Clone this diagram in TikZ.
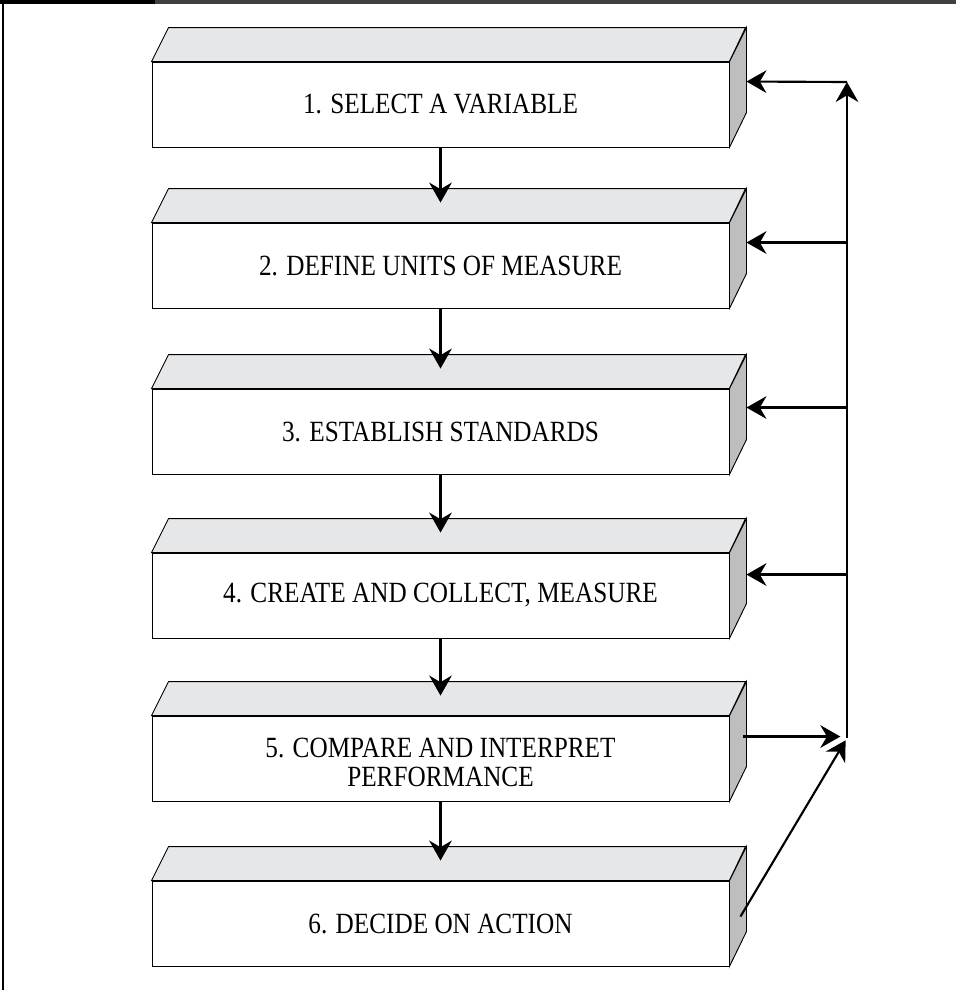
\documentclass[tikz,border=0pt]{standalone}
\usepackage{fontspec}
\setmainfont{Liberation Serif}
\newfontfamily\stepfont[FakeStretch=0.86]{Liberation Serif}
\usepackage{xcolor}
\usetikzlibrary{calc,arrows.meta}

\definecolor{facetop}{RGB}{230,231,232}
\definecolor{faceside}{RGB}{188,190,192}

\tikzset{
  stepbox/.style={draw, line width=0.7pt, fill=white, minimum width=432.75pt,
    minimum height=63.75pt, inner sep=0pt, align=center,
    font=\stepfont\fontsize{22}{22}\selectfont},
  topface/.style={draw, line width=0.7pt, fill=facetop},
  sideface/.style={draw, line width=0.7pt, fill=faceside},
  flow/.style={line width=1.6pt, -{Stealth[length=15pt,width=17pt,inset=5pt]}},
}

\begin{document}
\begin{tikzpicture}[x=0.75pt,y=0.75pt,yscale=-1,xscale=1]
\useasboundingbox (0,0) rectangle (956,990);

% frame
\draw [line width=1.2pt] (3,0) -- (3,990) ;
\draw [line width=2.5pt, black!75] (0,2) -- (956,2) ;
\draw [line width=3pt] (0,2) -- (155,2) ;

% steps
\node [stepbox] (s1) at (440.5,104.5) {1. SELECT A VARIABLE};
\draw [topface] (s1.north west) -- ++(17,-34) -- ++(577,0) -- (s1.north east) -- cycle ;
\draw [sideface] (s1.north east) -- ++(17,-34) -- ++(0,85) -- (s1.south east) -- cycle ;

\node [stepbox] (s2) at (440.5,265.5) {2. DEFINE UNITS OF MEASURE};
\draw [topface] (s2.north west) -- ++(17,-34) -- ++(577,0) -- (s2.north east) -- cycle ;
\draw [sideface] (s2.north east) -- ++(17,-34) -- ++(0,85) -- (s2.south east) -- cycle ;

\node [stepbox] (s3) at (440.5,431.5) {3. ESTABLISH STANDARDS};
\draw [topface] (s3.north west) -- ++(17,-34) -- ++(577,0) -- (s3.north east) -- cycle ;
\draw [sideface] (s3.north east) -- ++(17,-34) -- ++(0,85) -- (s3.south east) -- cycle ;

\node [stepbox] (s4) at (440.5,595.5) {4. CREATE AND COLLECT, MEASURE};
\draw [topface] (s4.north west) -- ++(17,-34) -- ++(577,0) -- (s4.north east) -- cycle ;
\draw [sideface] (s4.north east) -- ++(17,-34) -- ++(0,85) -- (s4.south east) -- cycle ;

\node [stepbox] (s5) at (440.5,758.5) {\rule{0pt}{20pt}5. COMPARE AND INTERPRET\\PERFORMANCE};
\draw [topface] (s5.north west) -- ++(17,-34) -- ++(577,0) -- (s5.north east) -- cycle ;
\draw [sideface] (s5.north east) -- ++(17,-34) -- ++(0,85) -- (s5.south east) -- cycle ;

\node [stepbox] (s6) at (440.5,923.5) {6. DECIDE ON ACTION};
\draw [topface] (s6.north west) -- ++(17,-34) -- ++(577,0) -- (s6.north east) -- cycle ;
\draw [sideface] (s6.north east) -- ++(17,-34) -- ++(0,85) -- (s6.south east) -- cycle ;

% down arrows
\draw [flow, shorten >=15pt] (s1.south) -- (s2.north) ;
\draw [flow, shorten >=15pt] (s2.south) -- (s3.north) ;
\draw [flow, shorten >=15pt] (s3.south) -- (s4.north) ;
\draw [flow, shorten >=15pt] (s4.south) -- (s5.north) ;
\draw [flow, shorten >=15pt] (s5.south) -- (s6.north) ;

% feedback loop
\coordinate (join) at (847,738) ;
\coordinate (top) at (847,82) ;
\coordinate (in1) at ($(s1.north east)+(17,20)$) ;
\coordinate (in2) at ($(s2.north east)+(17,20)$) ;
\coordinate (in3) at ($(s3.north east)+(17,19)$) ;
\coordinate (in4) at ($(s4.north east)+(17,22)$) ;
\coordinate (out5) at ($(s5.north east)+(14,21)$) ;
\coordinate (out6) at ($(s6.north east)+(11,36)$) ;

\draw [flow] (join) -- (top) ;
\draw [flow] (top) -- (in1) ;
\draw [flow] (top |- in2) -- (in2) ;
\draw [flow] (top |- in3) -- (in3) ;
\draw [flow] (top |- in4) -- (in4) ;
\draw [flow, shorten >=5pt] (out5) -- (join |- out5) ;
\draw [flow, shorten >=2pt] (out6) -- (join) ;

\end{tikzpicture}
\end{document}
